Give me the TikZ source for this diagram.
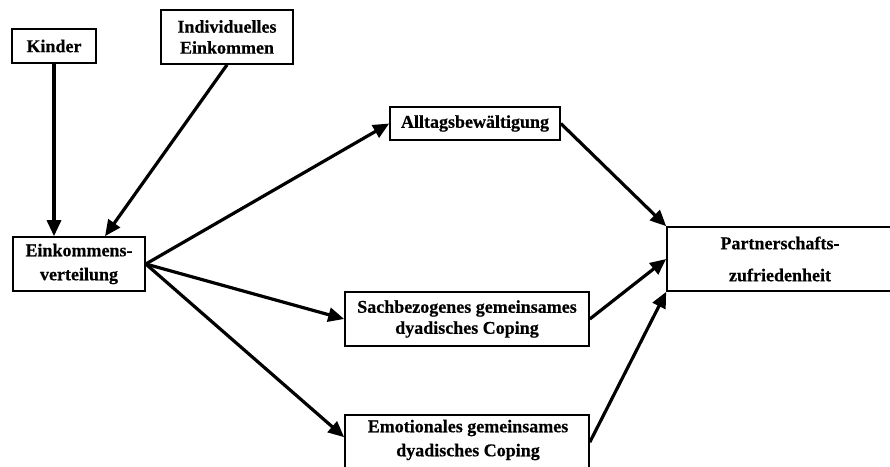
\documentclass[tikz,border=0pt]{standalone}
\usepackage{fontspec}
\setmainfont{Liberation Serif}[BoldFeatures={FakeBold=0.6}]
\usetikzlibrary{arrows.meta}
\begin{document}
\begin{tikzpicture}[x=1pt,y=-1pt,
  box/.style={draw=black, line width=1.6pt, rectangle, inner sep=0pt, align=center,
    font=\bfseries\fontsize{18}{21}\selectfont},
  lbl/.style={inner sep=0pt, align=center, font=\bfseries\fontsize{18}{24}\selectfont},
  arr/.style={line width=3.2pt, -{Triangle[length=16pt,width=14pt]}}]
\useasboundingbox (0,0) rectangle (890,466);
\fill[white] (0,0) rectangle (890,466);
\clip (0,0) rectangle (890,466);
\node[box, minimum width=84pt, minimum height=34pt] (kinder) at (54,46) {Kinder};
\node[box, minimum width=132pt, minimum height=54pt] (indiv) at (227,37) {Individuelles\\Einkommen};
\node[box, minimum width=132pt, minimum height=54pt, font=\bfseries\fontsize{18}{24}\selectfont] (einv) at (79,264) {Einkommens-\\verteilung};
\node[box, minimum width=170pt, minimum height=33pt] (alltag) at (475,123.5) {Alltagsbewältigung};
\node[box, minimum width=226pt, minimum height=64pt, font=\bfseries\fontsize{18}{32}\selectfont] (part) at (780,259) {Partnerschafts-\\zufriedenheit};
\node[box, minimum width=244pt, minimum height=54pt] (sach) at (467,319) {Sachbezogenes gemeinsames\\dyadisches Coping};
\node[box, minimum width=244pt, minimum height=90pt] (emo) at (467,460) {};
\node[lbl] (emotxt) at (468,440) {Emotionales gemeinsames\\dyadisches Coping};
\draw[arr] (kinder.south) -- (kinder.south |- einv.north);
\draw[arr] (indiv.south) -- ([xshift=26pt]einv.north);
\draw[arr] (einv.east) -- (alltag.west);
\draw[arr] (einv.east) -- (sach.west);
\draw[arr] (einv.east) -- ([yshift=-23pt]emo.north west);
\draw[arr] (alltag.east) -- (part.north west);
\draw[arr] (sach.east) -- (part.west);
\draw[arr] ([yshift=-28pt]emo.north east) -- (part.south west);
\end{tikzpicture}
\end{document}
